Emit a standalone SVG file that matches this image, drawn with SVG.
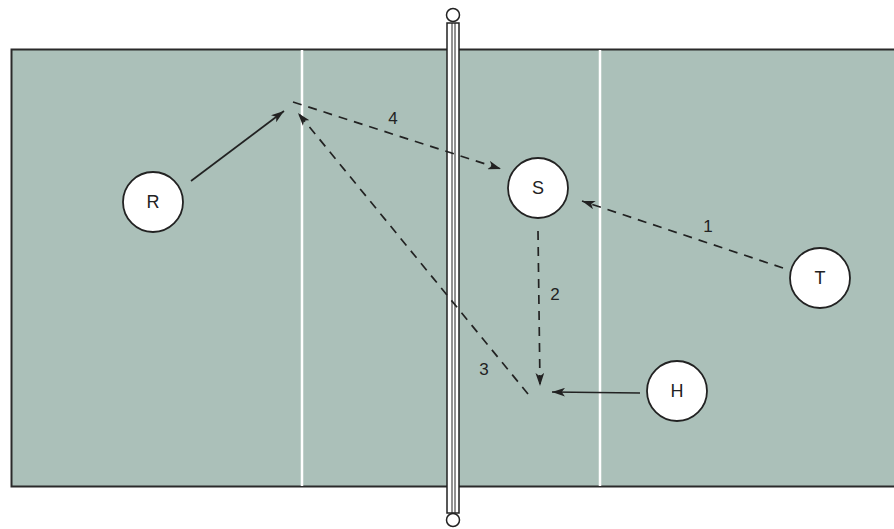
<svg xmlns="http://www.w3.org/2000/svg" width="894" height="529" viewBox="0 0 894 529">
<defs>
<marker id="ah" viewBox="0 0 12 8" refX="12" refY="4" markerWidth="13" markerHeight="9" markerUnits="userSpaceOnUse" orient="auto">
<path d="M0,0 L12,4 L0,8 L3,4 Z" fill="#222"/>
</marker>
</defs>
<style>
.node circle{fill:#fff;stroke:#222;stroke-width:1.8}
.node text{font-family:"Liberation Sans",Arial,sans-serif;font-size:18px;fill:#222;text-anchor:middle;dominant-baseline:central}
.lbl{font-family:"Liberation Sans",Arial,sans-serif;font-size:17px;fill:#222;text-anchor:middle;dominant-baseline:central}
.solid{stroke:#222;stroke-width:1.7;fill:none;marker-end:url(#ah)}
.dash{stroke:#222;stroke-width:1.7;fill:none;stroke-dasharray:9,7;marker-end:url(#ah)}
</style>
<rect width="894" height="529" fill="#fff"/>
<g id="court">
<rect x="11.5" y="49.5" width="890" height="437" fill="#abc0b9" stroke="#2a2a2a" stroke-width="2"/>
<line x1="302" y1="50" x2="302" y2="486" stroke="#fff" stroke-width="2.5"/>
<line x1="600" y1="50" x2="600" y2="486" stroke="#fff" stroke-width="2.5"/>
</g>
<g id="net">
<rect x="447" y="23" width="12" height="490" fill="#fff" stroke="#222" stroke-width="1.5"/>
<line x1="452" y1="23" x2="452" y2="513" stroke="#222" stroke-width="1"/>
<line x1="455" y1="23" x2="455" y2="513" stroke="#222" stroke-width="1"/>
<circle cx="453" cy="15" r="6.5" fill="#fff" stroke="#222" stroke-width="1.5"/>
<circle cx="453" cy="520" r="6.5" fill="#fff" stroke="#222" stroke-width="1.5"/>
</g>
<g id="connectors">
<line class="solid" x1="191" y1="181" x2="284" y2="111"/>
<line class="dash" x1="293" y1="102" x2="501" y2="169"/>
<line class="dash" x1="528" y1="394" x2="298" y2="113"/>
<line class="dash" x1="783" y1="268" x2="582" y2="201"/>
<line class="dash" x1="538" y1="231" x2="540" y2="386"/>
<line class="solid" x1="640" y1="393" x2="552" y2="392"/>
<text class="lbl" x="393" y="118">4</text>
<text class="lbl" x="484" y="369">3</text>
<text class="lbl" x="708" y="226">1</text>
<text class="lbl" x="555" y="294">2</text>
</g>
<g id="R" class="node"><circle cx="153" cy="202" r="30"/><text x="153" y="202">R</text></g>
<g id="S" class="node"><circle cx="538" cy="188" r="30"/><text x="538" y="188">S</text></g>
<g id="T" class="node"><circle cx="820" cy="278" r="30"/><text x="820" y="278">T</text></g>
<g id="H" class="node"><circle cx="677" cy="391" r="30"/><text x="677" y="391">H</text></g>
</svg>
